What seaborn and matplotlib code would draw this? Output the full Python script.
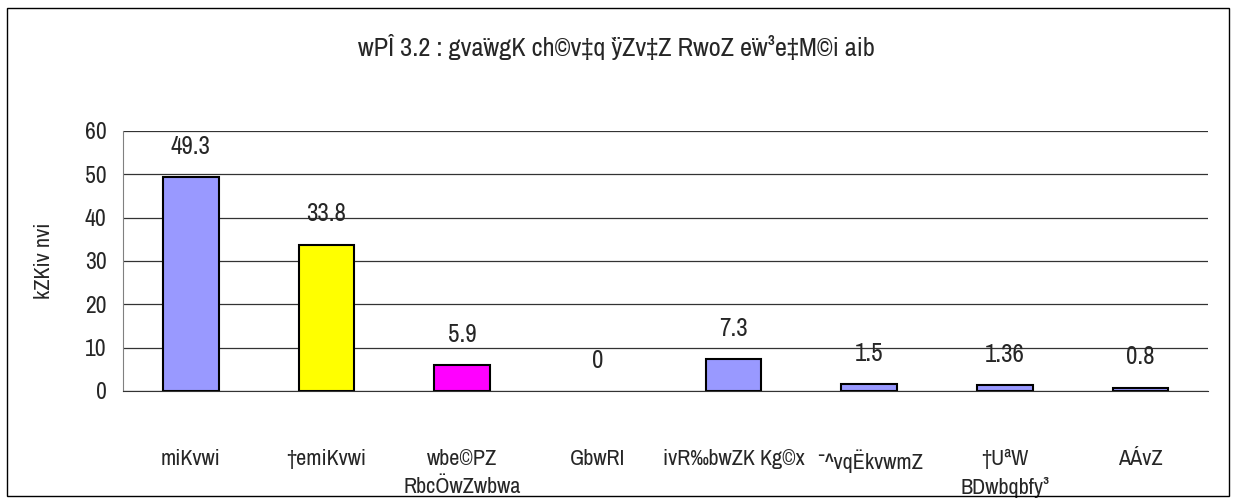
import seaborn as sns
import matplotlib.pyplot as plt
import matplotlib.patches as mpatches
import numpy as np
import pandas as pd
from matplotlib import font_manager

categories = ['miKvwi', '†emiKvwi', 'wbe©PZ\nRbcÖwZwbwa', 'GbwRI',
              'ivR‰bwZK Kg©x', '¯^vqËkvwmZ', '†UªW\nBDwbqbfy³', 'AÁvZ']
values = [49.3, 33.8, 5.9, 0, 7.3, 1.5, 1.36, 0.8]
value_labels = ['49.3', '33.8', '5.9', '0', '7.3', '1.5', '1.36', '0.8']
bar_colors = ['#9999FF', '#FFFF00', '#FF00FF', '#9999FF',
              '#9999FF', '#9999FF', '#9999FF', '#9999FF']
title = 'wPÎ 3.2 : gva¨wgK ch©v‡q `ÿZv‡Z RwoZ e¨w³e‡M©i aib'
ylabel = 'kZKiv nvi'
yticks = [0, 10, 20, 30, 40, 50, 60]

sns.set_style('white')
fonts = font_manager.fontManager.ttflist
narrow = [f.name for f in fonts if 'Narrow' in f.name or 'Condensed' in f.name]
cond = [f for f in fonts if f.name == 'DejaVu Sans' and f.stretch == 'condensed']
if narrow:
    plt.rcParams['font.family'] = [narrow[0], 'DejaVu Sans']
elif cond:
    plt.rcParams['font.family'] = ['DejaVu Sans']
    plt.rcParams['font.stretch'] = 'condensed'
else:
    plt.rcParams['font.family'] = ['Liberation Sans', 'DejaVu Sans']
fs = 16 if (narrow or cond) else 12.5

df = pd.DataFrame({'cat': categories, 'val': values})

fig = plt.figure(figsize=(12.33, 5.03), dpi=100)
ax = fig.add_axes([0.0998, 0.2227, 0.98 - 0.0998, 0.7396 - 0.2227])

sns.barplot(data=df, x='cat', y='val', hue='cat', palette=bar_colors,
            saturation=1, legend=False, width=0.41, edgecolor='black',
            linewidth=1.5, ax=ax)
for p, v in zip(ax.patches, values):
    if v == 0:
        p.set_visible(False)

ax.set_ylim(0, 60)
ax.set_xlim(-0.5, len(categories) - 0.5)
ax.set_yticks(yticks)
ax.set_yticklabels([str(t) for t in yticks], fontsize=fs + 1)
ax.yaxis.grid(True, color='#333333', linewidth=0.9)
ax.set_axisbelow(True)

for s in ['top', 'right']:
    ax.spines[s].set_visible(False)
ax.spines['left'].set_color('#808080')
ax.spines['bottom'].set_color('#333333')

ax.tick_params(axis='y', length=6, width=1, color='#333333', pad=6)
ax.tick_params(axis='x', which='major', length=0, labelsize=fs, pad=42)
for t in ax.get_xticklabels():
    t.set_linespacing(1.45)
ax.set_xticks(np.arange(len(categories) + 1) - 0.5, minor=True)
ax.tick_params(axis='x', which='minor', length=6, width=1, color='#333333')
ax.set_xlabel('')
ax.set_ylabel(ylabel, fontsize=fs, labelpad=22)

for i, (v, lab) in enumerate(zip(values, value_labels)):
    ax.annotate(lab, (i, v), xytext=(0, 14), textcoords='offset points',
                ha='center', va='bottom', fontsize=fs + 2)

fig.text(0.5, 0.906, title, ha='center', va='center', fontsize=fs + 3)

fig.patches.append(mpatches.Rectangle((7 / 1233, 7 / 503), 1222 / 1233, 488 / 503,
                                      transform=fig.transFigure, fill=False,
                                      edgecolor='black', linewidth=1))

fig.savefig('out.png', dpi=100)
